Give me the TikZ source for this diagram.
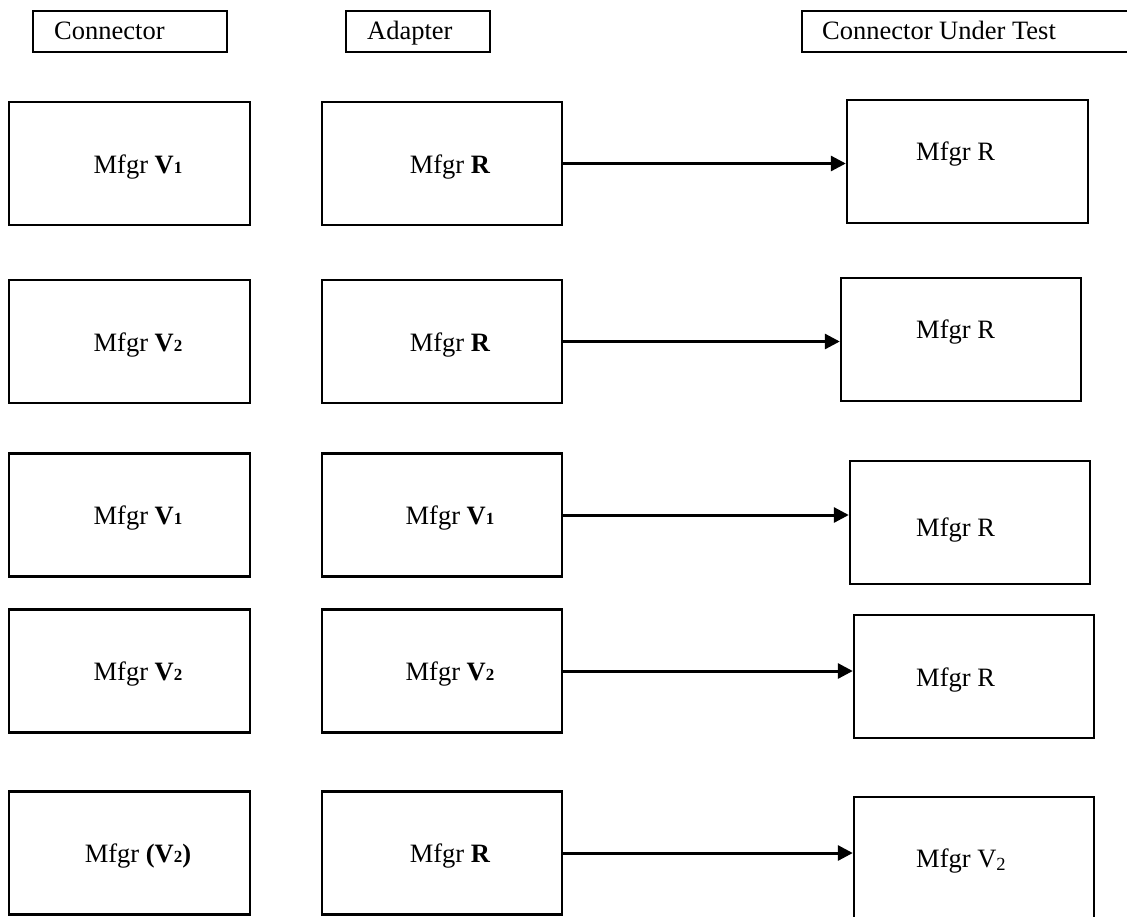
\documentclass[tikz,border=0pt]{standalone}
\usepackage{fontspec}
\setmainfont{Liberation Serif}
\usetikzlibrary{arrows.meta}

% small digit set on the baseline after a bold V
\newcommand{\smalldigit}[1]{{\fontsize{17}{17}\selectfont\bfseries #1}}

\tikzset{
  hdr/.style={draw, line width=2pt, inner sep=0pt, minimum height=41pt},
  cell/.style={draw, line width=2.4pt, inner sep=0pt, minimum height=123pt},
  lbl/.style={inner sep=0pt, font=\fontsize{26.5}{30}\selectfont},
  link/.style={line width=3pt, -{Triangle[length=15pt,width=15pt]}},
}

\begin{document}
\begin{tikzpicture}[x=1pt, y=-1pt]
  \useasboundingbox (0,0) rectangle (1127,916);
  \clip (0,0) rectangle (1127,916);

  % column headings
  \node[hdr, minimum width=194pt] (h1) at (130,31.5) {};
  \node[hdr, minimum width=144pt] (h2) at (418,31.5) {};
  \node[hdr, minimum width=346pt] (h3) at (975,31.5) {};
  \node[lbl, anchor=base west] (h1t) at (54,39) {Connector};
  \node[lbl, anchor=base west] (h2t) at (367,39) {Adapter};
  \node[lbl, anchor=base west] (h3t) at (822,39) {Connector Under Test};

  % connector column
  \node[cell, minimum width=241pt] (c1) at (129.5,163.5) {};
  \node[cell, minimum width=241pt] (c2) at (129.5,341.5) {};
  \node[cell, minimum width=241pt] (c3) at (129.5,515) {};
  \node[cell, minimum width=241pt] (c4) at (129.5,671) {};
  \node[cell, minimum width=241pt] (c5) at (129.5,853) {};
  \node[lbl, anchor=base] (c1t) at (138,173) {Mfgr \textbf{V}\smalldigit{1}};
  \node[lbl, anchor=base] (c2t) at (138,351) {Mfgr \textbf{V}\smalldigit{2}};
  \node[lbl, anchor=base] (c3t) at (138,524.5) {Mfgr \textbf{V}\smalldigit{1}};
  \node[lbl, anchor=base] (c4t) at (138,680.5) {Mfgr \textbf{V}\smalldigit{2}};
  \node[lbl, anchor=base] (c5t) at (138,862.5) {Mfgr \textbf{(V}\smalldigit{2}\textbf{)}};

  % adapter column
  \node[cell, minimum width=240pt] (a1) at (442,163.5) {};
  \node[cell, minimum width=240pt] (a2) at (442,341.5) {};
  \node[cell, minimum width=240pt] (a3) at (442,515) {};
  \node[cell, minimum width=240pt] (a4) at (442,671) {};
  \node[cell, minimum width=240pt] (a5) at (442,853) {};
  \node[lbl, anchor=base] (a1t) at (450,173) {Mfgr \textbf{R}};
  \node[lbl, anchor=base] (a2t) at (450,351) {Mfgr \textbf{R}};
  \node[lbl, anchor=base] (a3t) at (450,524.5) {Mfgr \textbf{V}\smalldigit{1}};
  \node[lbl, anchor=base] (a4t) at (450,680.5) {Mfgr \textbf{V}\smalldigit{2}};
  \node[lbl, anchor=base] (a5t) at (450,862.5) {Mfgr \textbf{R}};

  % connector under test column
  \node[cell, minimum width=241pt] (u1) at (967.5,161.5) {};
  \node[cell, minimum width=240pt] (u2) at (961,339.5) {};
  \node[cell, minimum width=240pt] (u3) at (970,522.5) {};
  \node[cell, minimum width=240pt] (u4) at (974,676.5) {};
  \node[cell, minimum width=240pt] (u5) at (974,858.5) {};
  \node[lbl, anchor=base west] (u1t) at (916,160) {Mfgr R};
  \node[lbl, anchor=base west] (u2t) at (916,338) {Mfgr R};
  \node[lbl, anchor=base west] (u3t) at (916,536) {Mfgr R};
  \node[lbl, anchor=base west] (u4t) at (916,686) {Mfgr R};
  \node[lbl, anchor=base west] (u5t) at (916,867) {Mfgr V\textsubscript{2}};

  % links from adapter to connector under test
  \draw[link] (a1.east) -- (a1.east -| u1.west);
  \draw[link] (a2.east) -- (a2.east -| u2.west);
  \draw[link] (a3.east) -- (a3.east -| u3.west);
  \draw[link] (a4.east) -- (a4.east -| u4.west);
  \draw[link] (a5.east) -- (a5.east -| u5.west);
\end{tikzpicture}
\end{document}
